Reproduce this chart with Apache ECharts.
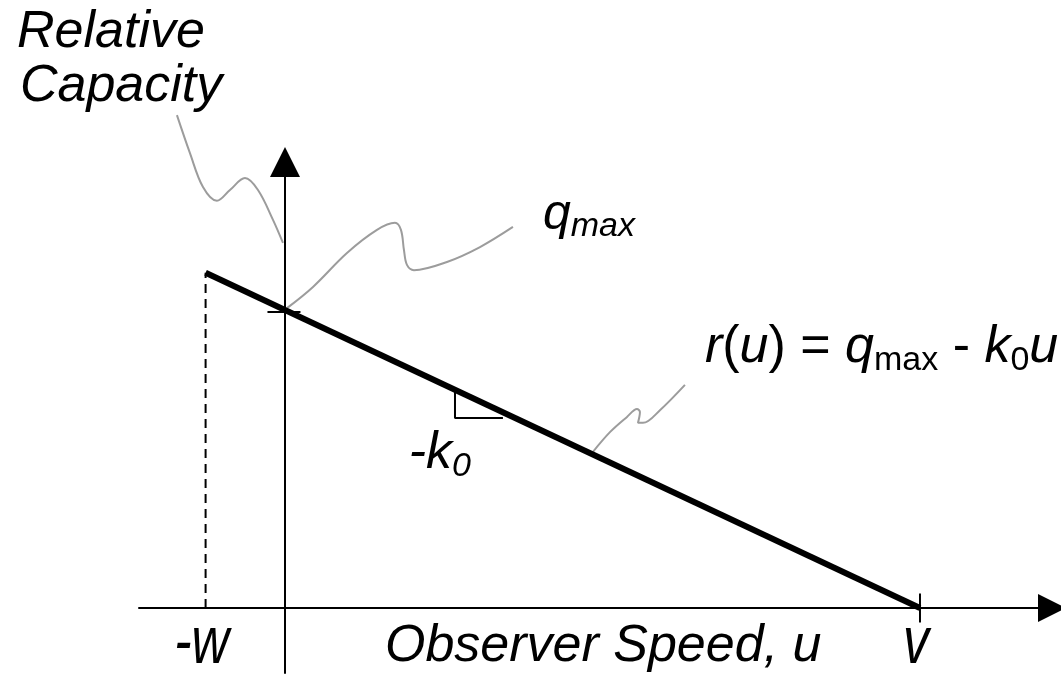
<!DOCTYPE html>
<html>
<head>
<meta charset="utf-8">
<script src="https://cdn.jsdelivr.net/npm/echarts@6/dist/echarts.min.js"></script>
<style>
  html, body { margin: 0; padding: 0; background: #fff; }
  #chart { width: 1061px; height: 683px; }
</style>
</head>
<body>
<div id="chart"></div>
<script>
// Observer speed u at the two ends of the capacity line (-w and v)
const speedEnds = [-1, 8];
// Relative capacity r(u) at those two speeds
const capacityEnds = [9, 0];
// Capacity seen by a stationary observer, r(0)
const qmax = 8;
// Names written under the speed axis at -w and v
const tickLabels = ['-w', 'v'];

// Leader lines from the labels to the features they describe (speed, capacity)
const capacityLeader = [[-1.361, 13.23], [-1.197, 12.21], [-1.033, 11.30], [-0.857, 10.93], [-0.693, 11.22],
  [-0.504, 11.54], [-0.340, 11.22], [-0.151, 10.42], [-0.025, 9.80]];
const qmaxLeader = [[0.025, 8.05], [0.353, 8.62], [0.781, 9.53], [1.159, 10.15], [1.386, 10.34], [1.461, 10.15],
  [1.499, 9.61], [1.537, 9.21], [1.625, 9.07], [2.041, 9.29], [2.457, 9.69], [2.872, 10.23]];
const formulaLeader = [[3.868, 4.16], [4.094, 4.72], [4.309, 5.13], [4.435, 5.34], [4.472, 5.26], [4.447, 4.97],
  [4.510, 4.97], [4.724, 5.31], [5.039, 5.99]];
// Slope marker drawn under the capacity line
const slopeMarker = [[2.142, 5.86], [2.142, 5.10], [2.746, 5.10]];

const FAMILY = '"Liberation Sans", Arial, sans-serif';
const INK = '#000';
const LEADER = '#9c9c9c';

const main = (size, italic) => ({
  fontFamily: FAMILY, fontSize: size, fontStyle: italic ? 'italic' : 'normal',
  fill: INK, verticalAlign: 'bottom', padding: [0, 0, 4, 0]
});
const sub = (size, italic) => ({
  fontFamily: FAMILY, fontSize: size, fontStyle: italic ? 'italic' : 'normal',
  fill: INK, verticalAlign: 'bottom'
});

// Free text placed in data space
const notes = [
  { at: [-3.376, 15.45], text: 'Relative' },
  { at: [-3.339, 14.00], text: 'Capacity' },
  { at: [3.250, 10.50], text: '{m|q}{s|max}', rich: { m: main(50, true), s: sub(34, true) } },
  { at: [5.291, 6.93], text: '{m|r}{n|(}{m|u}{n|) = }{m|q}{s|max}{n| - }{m|k}{s|0}{m|u}',
    rich: { m: main(52, true), n: main(52, false), s: sub(34, false) } },
  { at: [1.560, 4.08], text: '{m|-k}{s|0}', rich: { m: main(52, true), s: sub(34, true) } },
  { at: [1.260, -1.047], text: 'Observer Speed, u' }
];

const chart = echarts.init(document.getElementById('chart'), null, { renderer: 'canvas' });

const leaderSeries = (pts) => ({
  type: 'line', data: pts, smooth: 0.35, symbol: 'none', clip: false, silent: true,
  lineStyle: { color: LEADER, width: 2 }, z: 3
});

const textStyle = (text, align) => ({
  text, x: 0, y: 0, fill: INK, align, verticalAlign: 'middle',
  fontFamily: FAMILY, fontSize: 52, fontStyle: 'italic'
});

const option = {
  animation: false,
  backgroundColor: '#fff',
  grid: { left: 139, top: 177, right: 23, bottom: 10, containLabel: false, outerBoundsMode: 'none' },
  xAxis: {
    type: 'value', min: -1.839, max: 9.487,
    splitLine: { show: false },
    axisTick: { show: false },
    axisLabel: { show: false },
    axisLine: {
      show: true, onZero: true,
      lineStyle: { color: INK, width: 2 },
      symbol: ['none', 'triangle'], symbolSize: [28, 28], symbolOffset: [0, 14]
    }
  },
  yAxis: {
    type: 'value', min: -1.745, max: 11.57,
    splitLine: { show: false },
    axisTick: { show: false },
    axisLabel: { show: false },
    axisLine: {
      show: true, onZero: true,
      lineStyle: { color: INK, width: 2 },
      symbol: ['none', 'triangle'], symbolSize: [30, 30], symbolOffset: [0, 15]
    }
  },
  series: [
    // r(u) = qmax - k0 u
    {
      type: 'line', data: speedEnds.map((u, i) => [u, capacityEnds[i]]),
      symbol: 'none', silent: true, z: 5,
      lineStyle: { color: INK, width: 6, cap: 'butt' }
    },
    // drop line at -w
    {
      type: 'line', data: [[speedEnds[0], 0], [speedEnds[0], capacityEnds[0]]],
      symbol: 'none', silent: true, z: 2,
      lineStyle: { color: INK, width: 2, type: [9, 6] }
    },
    // slope marker
    {
      type: 'line', data: slopeMarker, symbol: 'none', silent: true, z: 2,
      lineStyle: { color: INK, width: 2 }
    },
    leaderSeries(capacityLeader),
    leaderSeries(qmaxLeader),
    leaderSeries(formulaLeader),
    // crossing ticks: v on the speed axis, qmax on the capacity axis
    {
      type: 'custom', silent: true, z: 6, clip: false,
      data: [[speedEnds[1], 0], [0, qmax]],
      renderItem(params, api) {
        const p = api.coord([api.value(0), api.value(1)]);
        const vertical = params.dataIndex === 0;
        const h = vertical ? 14.5 : 16.5;
        return {
          type: 'line',
          shape: vertical
            ? { x1: p[0], y1: p[1] - h, x2: p[0], y2: p[1] + h }
            : { x1: p[0] - h - 1, y1: p[1] + 2, x2: p[0] + h - 1, y2: p[1] + 2 },
          style: { stroke: INK, lineWidth: 2 }
        };
      }
    },
    // -w and v written under the speed axis, in a tall narrow cut
    {
      type: 'custom', silent: true, z: 10, clip: false,
      data: speedEnds.map((u) => [u, 0]),
      renderItem(params, api) {
        const p = api.coord([api.value(0), api.value(1)]);
        return {
          type: 'text', x: p[0] - 4, y: p[1] + 36, scaleY: 1.3,
          style: textStyle(tickLabels[params.dataIndex], 'center')
        };
      }
    },
    // text notes
    {
      type: 'custom', silent: true, z: 10, clip: false,
      data: notes.map((n) => n.at),
      renderItem(params, api) {
        const n = notes[params.dataIndex];
        const p = api.coord([api.value(0), api.value(1)]);
        const style = textStyle(n.text, 'left');
        if (n.rich) style.rich = n.rich;
        return { type: 'text', x: p[0], y: p[1], style };
      }
    }
  ]
};

chart.setOption(option);
</script>
</body>
</html>
